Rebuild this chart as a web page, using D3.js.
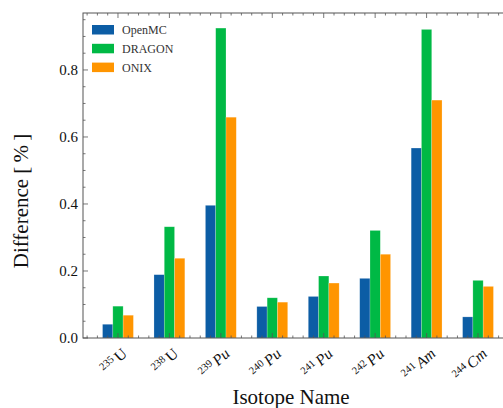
<!DOCTYPE html>
<html>
<head>
<meta charset="utf-8">
<script src="https://cdn.jsdelivr.net/npm/d3@7"></script>
<style>
  body { margin: 0; background: #fff; }
  text { font-family: "Liberation Serif", "Times New Roman", serif; }
</style>
</head>
<body>
<script>
// isotopes and their mass numbers
var masses = ["235", "238", "239", "240", "241", "242", "241", "244"];
var elements = ["U", "U", "Pu", "Pu", "Pu", "Pu", "Am", "Cm"];

// difference per code, in %
var openmc = [0.041, 0.189, 0.396, 0.094, 0.124, 0.178, 0.567, 0.063];
var dragon = [0.095, 0.332, 0.925, 0.120, 0.185, 0.321, 0.921, 0.172];
var onix   = [0.068, 0.238, 0.659, 0.107, 0.164, 0.250, 0.710, 0.154];

var seriesNames = ["OpenMC", "DRAGON", "ONIX"];
var colors = ["#0C5DA5", "#00B945", "#FF9500"];
var yTicks = [0.0, 0.2, 0.4, 0.6, 0.8];

var width = 503, height = 408;
var margin = { top: 13, left: 83, bottom: 70, right: -10 };

let svg = d3.select("body").append("svg")
    .attr("width", width)
    .attr("height", height);

var x = d3.scaleLinear()
    .domain([-0.68, masses.length - 1 + 0.68])
    .range([margin.left, width - margin.right]);

var y = d3.scaleLinear()
    .domain([0, 0.97])
    .range([height - margin.bottom, margin.top]);

var barW = 0.2;
var all = [openmc, dragon, onix];

// bars
all.forEach(function(vals, s) {
    svg.append("g").selectAll("rect")
        .data(vals)
        .enter()
        .append("rect")
            .attr("x", function(d, i) { return x(i + (s - 1) * barW - barW / 2); })
            .attr("width", x(barW) - x(0))
            .attr("y", function(d) { return y(d); })
            .attr("height", function(d) { return y(0) - y(d); })
            .attr("fill", colors[s])
            .attr("stroke", "#fff")
            .attr("stroke-opacity", 0.35)
            .attr("stroke-width", 0.6);
});

var x0 = x.range()[0], x1 = x.range()[1];
var y0 = y.range()[0], y1 = y.range()[1];
var axisColor = "#555";

// frame
svg.append("rect")
    .attr("x", x0).attr("y", y1)
    .attr("width", x1 - x0).attr("height", y0 - y1)
    .attr("fill", "none")
    .attr("stroke", axisColor)
    .attr("stroke-width", 1);

// ticks, drawn inward on all four sides
var ticks = svg.append("g").attr("stroke", axisColor).attr("stroke-width", 0.8);

var xMinor = d3.range(-3, (masses.length - 1) * 5 + 4).map(function(k) { return k / 5; });
xMinor.forEach(function(t) {
    var major = Math.abs(t - Math.round(t)) < 1e-6;
    var len = major ? 5 : 2.5;
    ticks.append("line").attr("x1", x(t)).attr("x2", x(t)).attr("y1", y0).attr("y2", y0 - len);
    ticks.append("line").attr("x1", x(t)).attr("x2", x(t)).attr("y1", y1).attr("y2", y1 + len);
});

var yMinor = d3.range(0, 20).map(function(k) { return k * 0.05; });
yMinor.forEach(function(t) {
    var major = (Math.round(t * 100) % 20) === 0;
    var len = major ? 5 : 2.5;
    ticks.append("line").attr("x1", x0).attr("x2", x0 + len).attr("y1", y(t)).attr("y2", y(t));
    ticks.append("line").attr("x1", x1).attr("x2", x1 - len).attr("y1", y(t)).attr("y2", y(t));
});

// y tick labels
svg.append("g").selectAll("text")
    .data(yTicks)
    .enter()
    .append("text")
        .attr("x", x0 - 5)
        .attr("y", function(d) { return y(d); })
        .attr("dy", "0.35em")
        .attr("text-anchor", "end")
        .attr("font-size", 15)
        .attr("fill", "#111")
        .text(function(d) { return d.toFixed(1); });

// x tick labels, rotated
var xl = svg.append("g").selectAll("text")
    .data(masses)
    .enter()
    .append("text")
        .attr("text-anchor", "end")
        .attr("fill", "#111")
        .attr("transform", function(d, i) { return "translate(" + (x(i) + 10) + "," + (y0 + 17) + ") rotate(-42)"; });
xl.append("tspan")
    .attr("font-size", 10.5)
    .attr("dy", -5)
    .text(function(d) { return d + "\u2009"; });
xl.append("tspan")
    .attr("font-size", 15.5)
    .attr("dy", 5)
    .attr("font-style", function(d, i) { return elements[i] === "U" ? "normal" : "italic"; })
    .text(function(d, i) { return elements[i]; });

// axis labels
svg.append("text")
    .attr("x", 291).attr("y", 404)
    .attr("text-anchor", "middle")
    .attr("font-size", 21)
    .attr("fill", "#111")
    .text("Isotope Name");

svg.append("text")
    .attr("transform", "translate(28,201) rotate(-90)")
    .attr("text-anchor", "middle")
    .attr("font-size", 21)
    .attr("fill", "#111")
    .text("Difference [\u2009%\u2009]");

// legend
var legend = svg.append("g");
seriesNames.forEach(function(name, s) {
    var ly = 25 + s * 18.8;
    legend.append("rect")
        .attr("x", 92).attr("y", ly)
        .attr("width", 22).attr("height", 9.5)
        .attr("fill", colors[s]);
    legend.append("text")
        .attr("x", 122).attr("y", ly + 9)
        .attr("font-size", 12)
        .attr("fill", "#333")
        .text(name);
});
</script>
</body>
</html>
